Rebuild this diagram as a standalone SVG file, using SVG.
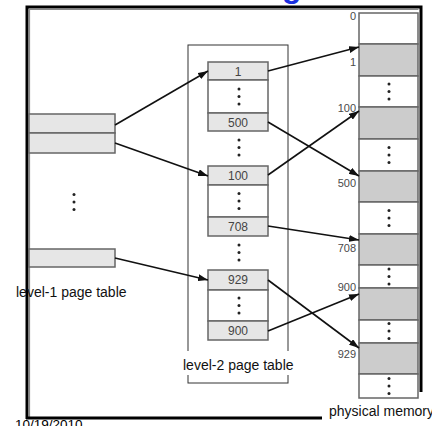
<svg xmlns="http://www.w3.org/2000/svg" width="432" height="426" viewBox="0 0 432 426">
<style>
.lbl{font-family:"Liberation Sans",Arial,sans-serif;font-size:14px;fill:#111}
.num{font-family:"Liberation Sans",Arial,sans-serif;font-size:12px;fill:#444;text-anchor:middle}
.pnum{font-family:"Liberation Sans",Arial,sans-serif;font-size:11px;fill:#4a4a4a;text-anchor:end}
.row{fill:#e6e6e6;stroke:#666;stroke-width:1.5}
.wrow{fill:#fff;stroke:#666;stroke-width:1.5}
.prow{fill:#cccccc;stroke:#666;stroke-width:1.5}
.dot{fill:#222}
.conn{stroke:#111;stroke-width:1.6;fill:none;marker-end:url(#ah)}
</style>
<defs>
<marker id="ah" markerUnits="userSpaceOnUse" markerWidth="10" markerHeight="7" refX="10" refY="3.5" orient="auto">
<path d="M0,0 L10,3.5 L0,7 z" fill="#111"/>
</marker>
<g id="d3">
<circle cx="0" cy="-7.5" r="1.5"/><circle cx="0" cy="0" r="1.5"/><circle cx="0" cy="7.5" r="1.5"/>
</g>
</defs>
<rect width="432" height="426" fill="#fff"/>
<text x="282" y="-3" style="font-family:'Liberation Sans',Arial,sans-serif;font-size:32px;font-weight:bold;fill:#1a2fe0">g</text>
<g id="frame" fill="none">
<path d="M27,419 L27,7 L421,7 L421,392" stroke="#000" stroke-width="3"/>
<path d="M29.5,418 L29.5,9.5 L418.5,9.5" stroke="#888" stroke-width="1.2"/>
<path d="M26,418 L322,418" stroke="#000" stroke-width="3"/>
</g>
<g id="level1">
<rect class="row" x="29" y="114" width="86" height="19"/>
<rect class="row" x="29" y="133" width="86" height="20"/>
<rect class="row" x="29" y="249" width="86" height="18"/>
<use href="#d3" x="74" y="202" class="dot"/>
<text class="lbl" x="16" y="297">level-1 page table</text>
</g>
<g id="level2">
<rect x="188" y="45" width="100" height="338" fill="none" stroke="#333" stroke-width="1"/>
<rect x="182" y="351" width="112" height="24" fill="#fff"/>
<text class="lbl" x="183" y="370">level-2 page table</text>
<rect class="row" x="208" y="62" width="60" height="18"/>
<rect class="wrow" x="208" y="80" width="60" height="33"/>
<rect class="row" x="208" y="113" width="60" height="18"/>
<rect class="row" x="208" y="166" width="60" height="19"/>
<rect class="wrow" x="208" y="185" width="60" height="32"/>
<rect class="row" x="208" y="217" width="60" height="19"/>
<rect class="row" x="208" y="270" width="60" height="20"/>
<rect class="wrow" x="208" y="290" width="60" height="31"/>
<rect class="row" x="208" y="321" width="60" height="19"/>
<text class="num" x="238" y="75.5">1</text>
<text class="num" x="238" y="126.5">500</text>
<text class="num" x="238" y="179.5">100</text>
<text class="num" x="238" y="230.5">708</text>
<text class="num" x="238" y="284">929</text>
<text class="num" x="238" y="334.5">900</text>
<use href="#d3" x="239" y="96.5" class="dot"/>
<use href="#d3" x="239" y="147.5" class="dot"/>
<use href="#d3" x="239" y="201" class="dot"/>
<use href="#d3" x="239" y="252.5" class="dot"/>
<use href="#d3" x="239" y="305.5" class="dot"/>
</g>
<g id="physmem">
<rect class="wrow" x="359" y="13" width="59" height="31"/>
<rect class="prow" x="359" y="44" width="59" height="32"/>
<rect class="wrow" x="359" y="76" width="59" height="31"/>
<rect class="prow" x="359" y="107" width="59" height="32"/>
<rect class="wrow" x="359" y="139" width="59" height="32"/>
<rect class="prow" x="359" y="171" width="59" height="31"/>
<rect class="wrow" x="359" y="202" width="59" height="32"/>
<rect class="prow" x="359" y="234" width="59" height="31"/>
<rect class="wrow" x="359" y="265" width="59" height="23"/>
<rect class="prow" x="359" y="288" width="59" height="32"/>
<rect class="wrow" x="359" y="320" width="59" height="23"/>
<rect class="prow" x="359" y="343" width="59" height="31"/>
<rect class="wrow" x="359" y="374" width="59" height="24"/>
<use href="#d3" x="389" y="91.5" class="dot"/>
<use href="#d3" x="389" y="155" class="dot"/>
<use href="#d3" x="389" y="218" class="dot"/>
<use href="#d3" x="389" y="276.5" class="dot"/>
<use href="#d3" x="389" y="331" class="dot"/>
<use href="#d3" x="389" y="386" class="dot"/>
<text class="pnum" x="356" y="20">0</text>
<text class="pnum" x="356" y="66">1</text>
<text class="pnum" x="356" y="112">100</text>
<text class="pnum" x="356" y="187">500</text>
<text class="pnum" x="356" y="252">708</text>
<text class="pnum" x="356" y="291">900</text>
<text class="pnum" x="356" y="358">929</text>
<text class="lbl" x="329" y="416" style="font-size:14px">physical memory</text>
</g>
<g id="connectors">
<path class="conn" d="M115,125 L208,71"/>
<path class="conn" d="M115,143 L208,176"/>
<path class="conn" d="M115,258 L208,280"/>
<path class="conn" d="M268,71 L359,47"/>
<path class="conn" d="M268,122 L359,176"/>
<path class="conn" d="M268,175 L359,111"/>
<path class="conn" d="M268,226 L359,240"/>
<path class="conn" d="M268,280 L359,348"/>
<path class="conn" d="M268,331 L359,294"/>
</g>
<text x="15" y="429" style="font-family:'Liberation Sans',Arial,sans-serif;font-size:13.5px;fill:#000">10/19/2010</text>
</svg>
